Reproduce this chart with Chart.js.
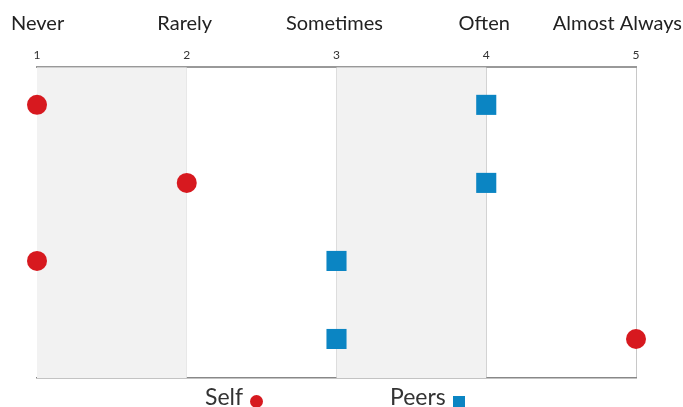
<!DOCTYPE html>
<html>
<head>
<meta charset="utf-8">
<script src="https://cdn.jsdelivr.net/npm/chart.js@4.4.1/dist/chart.umd.min.js"></script>
<style>
  html, body { margin: 0; padding: 0; background: #fff; }
  #wrap { position: relative; width: 683px; height: 407px; font-family: Lato, sans-serif; }
  #chart { position: absolute; left: 0; top: 0; }
  .leg { position: absolute; top: 382px; font-size: 23px; color: #333; white-space: nowrap; }
  .leg i { display: inline-block; margin-left: 7px; vertical-align: -3px; }
  .dot { width: 13px; height: 13px; border-radius: 50%; background: #d7191f; }
  .sq { width: 12px; height: 12px; background: #0b85c3; }
</style>
</head>
<body>
<div id="wrap">
  <canvas id="chart" width="683" height="407"></canvas>
  <div class="leg" style="left:205px">Self<i class="dot"></i></div>
  <div class="leg" style="left:390px">Peers<i class="sq"></i></div>
</div>
<script>
document.addEventListener("DOMContentLoaded", function () {
    const scaleValues = [1, 2, 3, 4, 5];
    const scaleNames = ["Never", "Rarely", "Sometimes", "Often", "Almost Always"];
    const items = [1, 2, 3, 4];
    const selfScores = [1, 2, 1, 5];
    const peerScores = [4, 4, 3, 3];

    const red = "#d7191f";
    const blue = "#0b85c3";

    // grey bands behind 1-2 and 3-4, plus the answer names above the numbers
    const bandsAndNames = {
        id: "bandsAndNames",
        beforeDatasetsDraw(chart) {
            const { ctx, chartArea, scales } = chart;
            ctx.save();
            ctx.fillStyle = "#f2f2f2";
            for (let i = 0; i < scaleValues.length - 1; i += 2) {
                const x0 = scales.x.getPixelForValue(scaleValues[i]);
                const x1 = scales.x.getPixelForValue(scaleValues[i + 1]);
                ctx.fillRect(x0, chartArea.top, x1 - x0, chartArea.bottom - chartArea.top);
            }
            ctx.restore();
        },
        afterDraw(chart) {
            const { ctx, scales, width } = chart;
            ctx.save();
            ctx.font = "20px Lato";
            ctx.fillStyle = "#222";
            ctx.textBaseline = "middle";
            ctx.textAlign = "center";
            scaleValues.forEach(function (v, i) {
                const w = ctx.measureText(scaleNames[i]).width;
                let cx = scales.x.getPixelForValue(v) - 2;
                cx = Math.max(11 + w / 2, Math.min(width - 1 - w / 2, cx));
                ctx.fillText(scaleNames[i], cx, 24);
            });
            ctx.restore();
        }
    };

    new Chart(document.getElementById("chart"), {
        type: "scatter",
        data: {
            datasets: [{
                label: "Self",
                data: items.map((r, i) => ({ x: selfScores[i], y: r })),
                pointStyle: "circle",
                pointRadius: 10,
                pointHoverRadius: 10,
                backgroundColor: red,
                borderWidth: 0,
                clip: false
            }, {
                label: "Peers",
                data: items.map((r, i) => ({ x: peerScores[i], y: r })),
                pointStyle: "rect",
                pointRadius: 14.2,
                pointHoverRadius: 14.2,
                backgroundColor: blue,
                borderWidth: 0,
                clip: false
            }]
        },
        plugins: [bandsAndNames],
        options: {
            responsive: false,
            animation: false,
            layout: { padding: { left: 37, right: 47, top: 43, bottom: 29 } },
            plugins: {
                legend: { display: false },
                tooltip: { enabled: false }
            },
            scales: {
                x: {
                    type: "linear",
                    position: "top",
                    min: 1,
                    max: 5,
                    ticks: {
                        stepSize: 1,
                        font: { family: "Lato", size: 12 },
                        color: "#333",
                        padding: 5
                    },
                    grid: { color: "#c8c8c8", lineWidth: 1, drawTicks: false },
                    border: { color: "#999", width: 2 }
                },
                xb: {
                    type: "linear",
                    position: "bottom",
                    min: 1,
                    max: 5,
                    ticks: { display: false },
                    grid: { display: false, drawTicks: false },
                    border: { color: "#888", width: 1.5 }
                },
                y: {
                    type: "linear",
                    reverse: true,
                    min: 0.52,
                    max: 4.5,
                    display: false
                }
            }
        }
    });
});
</script>
</body>
</html>
